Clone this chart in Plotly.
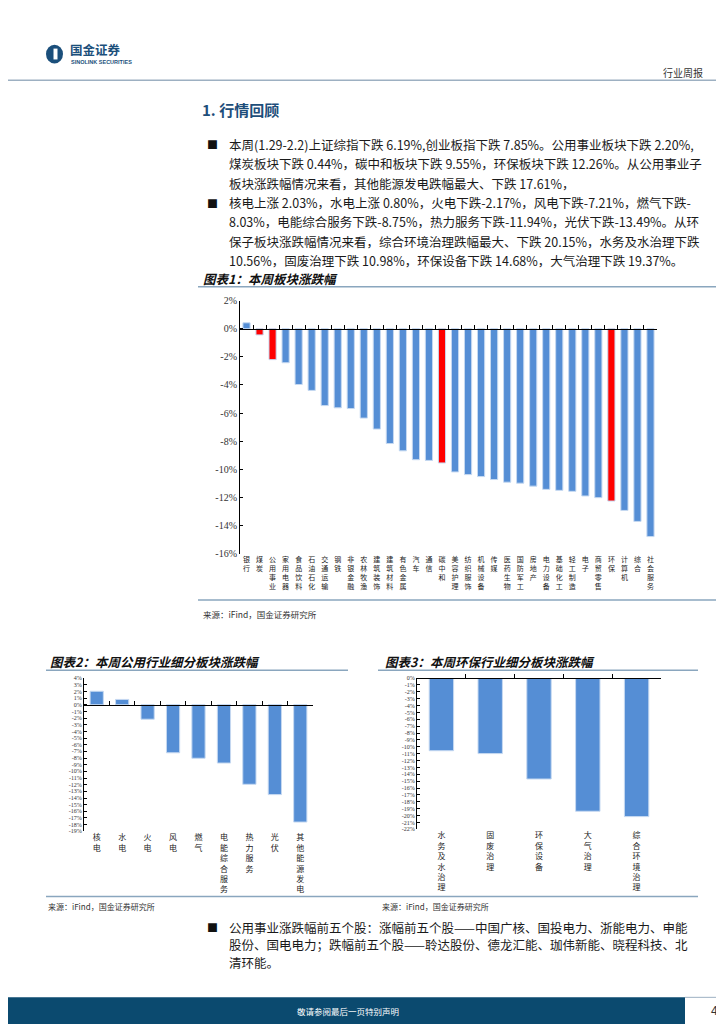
import plotly.graph_objects as go

W, H = 724, 1024


def fx(x):
    return x / W


def fy(y):
    return 1 - y / H


# ---------------- data ----------------
sectors = ["银行", "煤炭", "公用事业", "家用电器", "食品饮料", "石油石化", "交通运输", "钢铁",
           "非银金融", "农林牧渔", "建筑装饰", "建筑材料", "有色金属", "汽车", "通信", "碳中和",
           "美容护理", "纺织服饰", "机械设备", "传媒", "医药生物", "国防军工", "房地产", "电力设备",
           "基础化工", "轻工制造", "电子", "商贸零售", "环保", "计算机", "综合", "社会服务"]
sector_chg = [0.42, -0.44, -2.20, -2.42, -3.97, -4.39, -5.47, -5.63, -5.68, -6.36, -7.14, -8.17,
              -8.69, -9.32, -9.37, -9.55, -10.19, -10.38, -10.52, -10.73, -10.92, -10.99, -11.20,
              -11.43, -11.50, -11.57, -11.90, -12.02, -12.26, -12.93, -13.71, -14.79]
highlight = ["煤炭", "公用事业", "碳中和", "环保"]

utility_subs = ["核电", "水电", "火电", "风电", "燃气", "电能综合服务", "热力服务", "光伏", "其他能源发电"]
utility_chg = [2.03, 0.80, -2.17, -7.21, -8.03, -8.75, -11.94, -13.49, -17.61]

env_subs = ["水务及水治理", "固废治理", "环保设备", "大气治理", "综合环境治理"]
env_chg = [-10.56, -10.98, -14.68, -19.37, -20.15]

y1_ticks = list(range(-16, 3, 2))
y2_ticks = list(range(-19, 5))
y3_ticks = list(range(-22, 1))

para1 = [
    "本周(1.29-2.2)上证综指下跌 6.19%,创业板指下跌 7.85%。公用事业板块下跌 2.20%,",
    "煤炭板块下跌 0.44%，碳中和板块下跌 9.55%，环保板块下跌 12.26%。从公用事业子",
    "板块涨跌幅情况来看，其他能源发电跌幅最大、下跌 17.61%，",
]
para2 = [
    "核电上涨 2.03%，水电上涨 0.80%，火电下跌-2.17%，风电下跌-7.21%，燃气下跌-",
    "8.03%，电能综合服务下跌-8.75%，热力服务下跌-11.94%，光伏下跌-13.49%。从环",
    "保子板块涨跌幅情况来看，综合环境治理跌幅最大、下跌 20.15%，水务及水治理下跌",
    "10.56%，固废治理下跌 10.98%，环保设备下跌 14.68%，大气治理下跌 19.37%。",
]
para3 = [
    "公用事业涨跌幅前五个股：涨幅前五个股——中国广核、国投电力、浙能电力、申能",
    "股份、国电电力；跌幅前五个股——聆达股份、德龙汇能、珈伟新能、晓程科技、北",
    "清环能。",
]

BLUE = "#558ED5"
EDGE = "#C6D9F1"
RED = "#FF0000"
CJK = "Noto Sans CJK SC"
SERIF = "Liberation Serif"
NAVY = "#0B4A6F"
LINEC = "#8AA6BE"

fig = go.Figure()


def vlabel(s):
    return "<br>".join(list(s))


def zero_pos(dom, rng):
    return dom[0] + (0 - rng[0]) / (rng[1] - rng[0]) * (dom[1] - dom[0])


charts = [
    dict(cats=sectors, vals=sector_chg,
         colors=[RED if c in highlight else BLUE for c in sectors],
         xd=[fx(232), fx(649)], yd=[fy(546), fy(290)], yr=[-16, 2], yt=y1_ticks,
         lab=7, width=0.55, ytf=10),
    dict(cats=utility_subs, vals=utility_chg, colors=[BLUE] * len(utility_subs),
         xd=[fx(76), fx(305)], yd=[fy(827), fy(672)], yr=[-19, 4], yt=y2_ticks,
         lab=8, width=0.52, ytf=6),
    dict(cats=env_subs, vals=env_chg, colors=[BLUE] * len(env_subs),
         xd=[fx(409), fx(653)], yd=[fy(825), fy(672)], yr=[-22, 0], yt=y3_ticks,
         lab=8, width=0.5, ytf=6),
]

layout_axes = {}
for i, c in enumerate(charts):
    k = i + 1
    ov = k + 3
    xs = "" if k == 1 else str(k)
    n = len(c["cats"])
    fig.add_trace(go.Bar(
        x=[vlabel(s) for s in c["cats"]], y=c["vals"],
        marker=dict(color=c["colors"], line=dict(color=EDGE, width=1)),
        width=c["width"], xaxis="x" + xs, yaxis="y" + xs, showlegend=False,
    ))
    fig.add_trace(go.Scatter(x=[None], y=[None], xaxis=f"x{ov}", yaxis="y" + xs,
                             showlegend=False, hoverinfo="skip"))
    layout_axes["xaxis" + xs] = dict(
        domain=c["xd"], anchor="y" + xs, type="category", range=[-0.5, n - 0.5],
        showline=False, ticks="", showgrid=False, zeroline=False, tickangle=0,
        tickfont=dict(family=CJK, size=c["lab"], color="#222"),
    )
    layout_axes[f"xaxis{ov}"] = dict(
        domain=c["xd"], overlaying="x" + xs, anchor="free",
        position=zero_pos(c["yd"], c["yr"]), type="linear", range=[-0.5, n - 0.5],
        tickvals=[j - 0.5 for j in range(n + 1)], ticks="inside", ticklen=4,
        tickcolor="#000", showline=True, linecolor="#000", linewidth=1.2,
        showticklabels=False, showgrid=False, zeroline=False,
    )
    layout_axes["yaxis" + xs] = dict(
        domain=c["yd"], anchor="x" + xs, range=c["yr"],
        tickvals=c["yt"], ticktext=[f"{v}%" for v in c["yt"]],
        ticks="inside", ticklen=3, tickcolor="#000",
        showline=True, linecolor="#000", linewidth=1, showgrid=False, zeroline=False,
        tickfont=dict(family=SERIF, size=c["ytf"], color="#333"),
    )

shapes = []


def hline(x0, x1, y, color=LINEC, w=1.5):
    shapes.append(dict(type="line", xref="paper", yref="paper", x0=fx(x0), x1=fx(x1),
                       y0=fy(y), y1=fy(y), line=dict(color=color, width=w)))


hline(0, 724, 67, "#9DB0C2", 1.5)
hline(190, 720, 276)
hline(190, 720, 593)
hline(38, 340, 664)
hline(370, 690, 664)
hline(38, 690, 893)
# footer band
shapes.append(dict(type="rect", xref="paper", yref="paper", x0=0, x1=fx(677), y0=fy(1024),
                   y1=fy(995), fillcolor=NAVY, line=dict(width=0), layer="below"))
hline(677, 724, 995, "#9DB0C2", 1)
# logo
shapes.append(dict(type="circle", xref="paper", yref="paper", x0=fx(38), x1=fx(55),
                   y0=fy(50), y1=fy(31), fillcolor="#1B4F7B", line=dict(width=0)))
shapes.append(dict(type="rect", xref="paper", yref="paper", x0=fx(45.5), x1=fx(49.5),
                   y0=fy(46), y1=fy(35), fillcolor="white", line=dict(width=0)))

ann = []


def text(x, y, s, size=12, color="#222", family=CJK, xanchor="left"):
    ann.append(dict(x=fx(x), y=fy(y), xref="paper", yref="paper", text=s, showarrow=False,
                    xanchor=xanchor, yanchor="middle",
                    font=dict(family=family, size=size, color=color)))


text(60, 36, "<b>国金证券</b>", 12.5, "#1B4F7B")
text(61, 48.5, "<b>SINOLINK SECURITIES</b>", 5.5, "#1B4F7B", "Liberation Sans")
text(697, 59, "行业周报", 10, "#333", xanchor="right")
text(192, 97, "<b>1. 行情回顾</b>", 15, "#1D4E7A")

BODY = 12.5
ys = [132, 151.6, 171.2, 190.8, 210.4, 230, 249.6]
lines = para1 + para2
for s, y in zip(lines, ys):
    text(219, y, s, BODY, "#1a1a1a")
text(197, ys[0], "■", 11, "#111")
text(197, ys[3], "■", 11, "#111")

text(193, 268, "<b><i>图表1：本周板块涨跌幅</i></b>", 12.5, "#111")
text(193, 607, "来源：iFind，国金证券研究所", 8.5, "#333")
text(40, 655, "<b><i>图表2：本周公用行业细分板块涨跌幅</i></b>", 12.5, "#111")
text(375, 655, "<b><i>图表3：本周环保行业细分板块涨跌幅</i></b>", 12.5, "#111")
text(38, 903, "来源：iFind，国金证券研究所", 8, "#333")
text(372, 903, "来源：iFind，国金证券研究所", 8, "#333")

ys3 = [924, 942, 960]
for s, y in zip(para3, ys3):
    text(219, y, s, BODY, "#1a1a1a")
text(197, ys3[0], "■", 11, "#111")

text(340, 1009, "敬请参阅最后一页特别声明", 8.5, "white", xanchor="center")
text(706, 1009, "4", 12, "#333", "Liberation Sans", xanchor="center")

fig.update_layout(
    width=W, height=H, margin=dict(l=0, r=0, t=0, b=0),
    paper_bgcolor="white", plot_bgcolor="white", showlegend=False,
    shapes=shapes, annotations=ann, **layout_axes,
)

fig.write_html("out.html")
